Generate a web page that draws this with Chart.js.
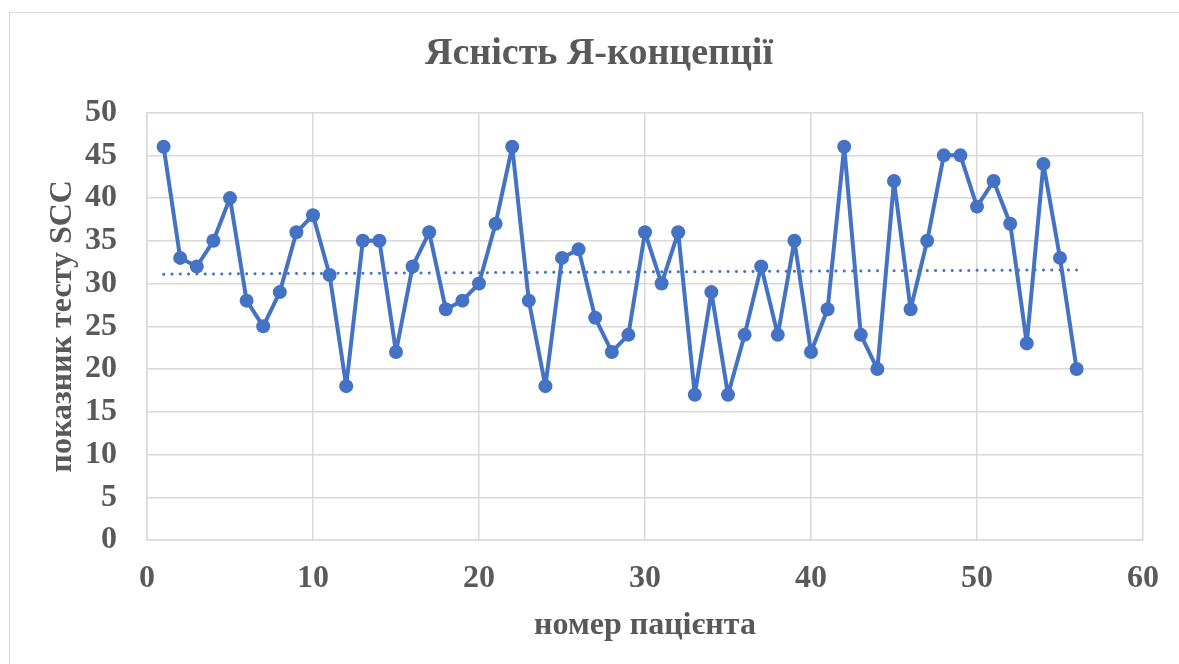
<!doctype html>
<html lang="uk">
  <head>
    <title>Ясність Я-концепції</title>
    <meta charset="utf-8" />
    <style>
      body { margin: 0; background: #fff; overflow: hidden; }
      .frame {
        position: absolute;
        left: 9px;
        top: 12px;
        width: 1200px;
        height: 700px;
        border: 1px solid #d9d9d9;
      }
      .chart-container {
        position: absolute;
        left: 0;
        top: 0;
        width: 1179px;
        height: 664px;
      }
    </style>
  </head>

  <body>
    <div class="frame"></div>
    <div class="chart-container">
      <canvas id="scc-chart" width="1179" height="664"></canvas>
    </div>

    <script src="https://cdn.jsdelivr.net/npm/chart.js@4.4.1/dist/chart.umd.min.js"></script>
    <script>
      const patientNumbers = [
        1, 2, 3, 4, 5, 6, 7, 8, 9, 10, 11, 12, 13, 14, 15, 16, 17, 18, 19, 20,
        21, 22, 23, 24, 25, 26, 27, 28, 29, 30, 31, 32, 33, 34, 35, 36, 37, 38,
        39, 40, 41, 42, 43, 44, 45, 46, 47, 48, 49, 50, 51, 52, 53, 54, 55, 56,
      ];
      const sccScores = [
        46, 33, 32, 35, 40, 28, 25, 29, 36, 38, 31, 18, 35, 35, 22, 32, 36, 27,
        28, 30, 37, 46, 28, 18, 33, 34, 26, 22, 24, 36, 30, 36, 17, 29, 17, 24,
        32, 24, 35, 22, 27, 46, 24, 20, 42, 27, 35, 45, 45, 39, 42, 37, 23, 44,
        33, 20,
      ];
      // linear trend line, ends
      const trendX = [1, 56];
      const trendY = [31.1, 31.6];

      const xTicks = [0, 10, 20, 30, 40, 50, 60];
      const yTicks = [0, 5, 10, 15, 20, 25, 30, 35, 40, 45, 50];

      const textColor = "#595959";
      const gridColor = "#d9d9d9";
      const seriesColor = "#4472c4";
      const serif = "'Liberation Serif', 'Times New Roman', serif";

      const ctx = document.getElementById("scc-chart");

      new Chart(ctx, {
        type: "scatter",
        data: {
          datasets: [
            {
              label: "показник тесту SCC",
              data: patientNumbers.map((x, i) => ({ x: x, y: sccScores[i] })),
              showLine: true,
              borderColor: seriesColor,
              backgroundColor: seriesColor,
              borderWidth: 4,
              borderJoinStyle: "round",
              borderCapStyle: "round",
              pointRadius: 7,
              pointHoverRadius: 7,
              pointBorderWidth: 0,
            },
            {
              label: "тренд",
              data: trendX.map((x, i) => ({ x: x, y: trendY[i] })),
              showLine: true,
              borderColor: seriesColor,
              borderWidth: 3,
              borderDash: [0.1, 8.2],
              borderCapStyle: "round",
              pointRadius: 0,
            },
          ],
        },
        options: {
          responsive: false,
          animation: false,
          events: [],
          layout: {
            padding: { left: 33, right: 14, top: 0, bottom: 0 },
          },
          plugins: {
            legend: { display: false },
            tooltip: { enabled: false },
            title: {
              display: true,
              text: "Ясність Я-концепції",
              color: textColor,
              font: { family: serif, size: 38, weight: "bold" },
              padding: { top: 31, bottom: 36 },
            },
          },
          scales: {
            x: {
              type: "linear",
              min: 0,
              max: 60,
              afterBuildTicks: (scale) => {
                scale.ticks = xTicks.map((v) => ({ value: v }));
              },
              afterFit: (scale) => {
                scale.height = 124;
              },
              grid: { color: gridColor, lineWidth: 1.5, drawTicks: false },
              border: { color: gridColor, width: 1.5 },
              ticks: {
                color: textColor,
                padding: 20,
                font: { family: serif, size: 32, weight: "bold" },
              },
              title: {
                display: true,
                text: "номер пацієнта",
                color: textColor,
                font: { family: serif, size: 32, weight: "bold" },
                padding: { top: 0, bottom: 19 },
              },
            },
            y: {
              min: 0,
              max: 50,
              afterBuildTicks: (scale) => {
                scale.ticks = yTicks.map((v) => ({ value: v }));
              },
              afterFit: (scale) => {
                scale.width = 114;
              },
              grid: { color: gridColor, lineWidth: 1.5, drawTicks: false },
              border: { color: gridColor, width: 1.5 },
              ticks: {
                color: textColor,
                padding: 30,
                font: { family: serif, size: 32, weight: "bold" },
              },
              title: {
                display: true,
                text: "показник тесту SCC",
                color: textColor,
                font: { family: serif, size: 32, weight: "bold" },
                padding: { top: 11, bottom: 0 },
              },
            },
            // empty right-hand strip, keeps the plot edge where the picture has it
            yRight: {
              position: "right",
              min: 0,
              max: 50,
              afterFit: (scale) => {
                scale.width = 19;
              },
              grid: { drawOnChartArea: false, drawTicks: false },
              border: { display: false },
              ticks: { display: false },
            },
          },
        },
      });
    </script>
  </body>
</html>
